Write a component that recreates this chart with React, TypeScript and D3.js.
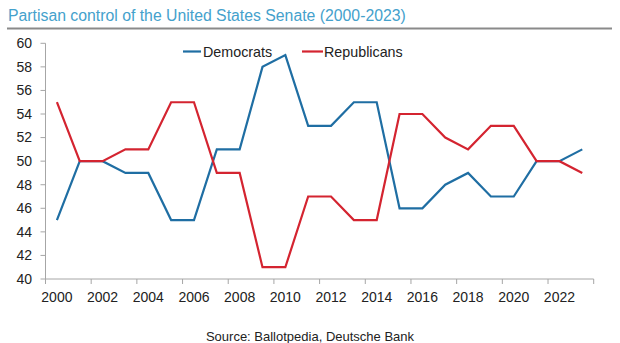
import React from "react";
import * as d3 from "d3";

const years = d3.range(2000, 2024).map(String);
const democrats = [45, 50, 50, 49, 49, 45, 45, 51, 51, 58, 59, 53, 53, 55, 55, 46, 46, 48, 49, 47, 47, 50, 50, 51];
const republicans = [55, 50, 50, 51, 51, 55, 55, 49, 49, 41, 41, 47, 47, 45, 45, 54, 54, 52, 51, 53, 53, 50, 50, 49];
const yTicks = [40, 42, 44, 46, 48, 50, 52, 54, 56, 58, 60];
const xTickLabels = ["2000", "2002", "2004", "2006", "2008", "2010", "2012", "2014", "2016", "2018", "2020", "2022"];
const seriesNames = ["Democrats", "Republicans"];

const BLUE = "#1f6ea3";
const RED = "#d42430";
const FONT = "Liberation Sans, Arial, sans-serif";

export default function App() {
  const W = 620, H = 343;
  const left = 45.5, right = 593.7, top = 43.3, bottom = 279;
  const x = d3.scaleBand<string>().domain(years).range([left, right]).padding(0);
  const y = d3.scaleLinear().domain([40, 60]).range([bottom, top]);
  const cx = (yr: string) => (x(yr) as number) + x.bandwidth() / 2;
  const line = d3
    .line<number>()
    .x((_, i) => cx(years[i]))
    .y((d) => y(d));
  const boundaries = d3.range(0, years.length + 1, 2).map((i) => left + i * x.bandwidth());

  return (
    <svg width={W} height={H} style={{ position: "absolute", left: 0, top: 0, background: "#fff" }} fontFamily={FONT}>
      <text x={8} y={21} fontSize={15.8} fill="#44a1cc">
        Partisan control of the United States Senate (2000-2023)
      </text>
      <line x1={7} x2={612} y1={28.5} y2={28.5} stroke="#8a8a8a" strokeWidth={2} />

      {/* y axis */}
      <line x1={left} x2={left} y1={top} y2={bottom} stroke="#a6a6a6" strokeWidth={1} />
      {yTicks.map((t) => (
        <g key={t}>
          <line x1={left - 5} x2={left} y1={y(t)} y2={y(t)} stroke="#a6a6a6" />
          <text x={32} y={y(t)} dy="0.35em" textAnchor="end" fontSize={14} fill="#222">
            {t}
          </text>
        </g>
      ))}

      {/* x axis */}
      <line x1={left} x2={right} y1={bottom} y2={bottom} stroke="#a6a6a6" strokeWidth={1} />
      {boundaries.map((bx, i) => (
        <line key={i} x1={bx} x2={bx} y1={bottom} y2={bottom + 5} stroke="#a6a6a6" />
      ))}
      {xTickLabels.map((lbl) => (
        <text key={lbl} x={cx(lbl)} y={bottom + 23} textAnchor="middle" fontSize={14} fill="#222">
          {lbl}
        </text>
      ))}

      {/* lines */}
      <path d={line(democrats) || ""} fill="none" stroke={BLUE} strokeWidth={2.2} strokeLinejoin="miter" />
      <path d={line(republicans) || ""} fill="none" stroke={RED} strokeWidth={2.2} strokeLinejoin="miter" />

      {/* legend */}
      <line x1={183} x2={201} y1={51.5} y2={51.5} stroke={BLUE} strokeWidth={2.2} />
      <text x={203} y={51.5} dy="0.35em" fontSize={14.3} fill="#222">
        {seriesNames[0]}
      </text>
      <line x1={302} x2={323} y1={51.5} y2={51.5} stroke={RED} strokeWidth={2.2} />
      <text x={324} y={51.5} dy="0.35em" fontSize={14.3} fill="#222">
        {seriesNames[1]}
      </text>

      <text x={310} y={336} dy="0.35em" textAnchor="middle" fontSize={13} fill="#222">
        Source: Ballotpedia, Deutsche Bank
      </text>
    </svg>
  );
}
